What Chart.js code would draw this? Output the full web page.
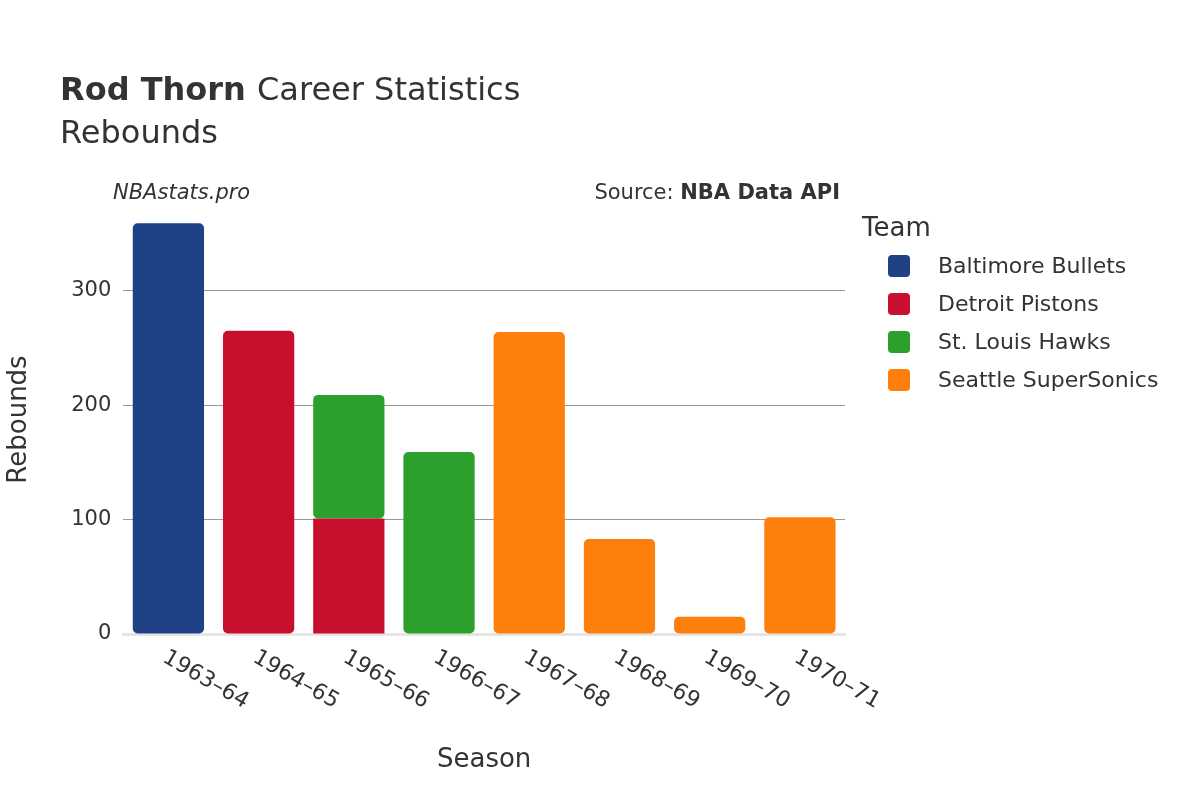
<!DOCTYPE html>
<html>
<head>
<meta charset="utf-8">
<script src="https://cdn.jsdelivr.net/npm/chart.js@4"></script>
<style>
  body { margin: 0; background: #fff; }
  #wrap { width: 1200px; height: 800px; position: relative; }
</style>
</head>
<body>
<div id="wrap"><canvas id="chart" width="1200" height="800"></canvas></div>
<script>
const seasons = ['1963–64','1964–65','1965–66','1966–67','1967–68','1968–69','1969–70','1970–71'];
const teams = ['Baltimore Bullets','Detroit Pistons','St. Louis Hawks','Seattle SuperSonics'];
const colors = ['#1f4287','#c8102e','#2ca02c','#ff7f0e'];
const bullets = [359, null, null, null, null, null, null, null];
const pistons = [null, 265, 101, null, null, null, null, null];
const hawks = [null, null, 108, 159, null, null, null, null];
const sonics = [null, null, null, null, 264, 83, 15, 102];
const yTicks = [0, 100, 200, 300];

const font = "'DejaVu Sans', sans-serif";

// titles, legend and rotated season labels drawn on the canvas
const titlePlugin = {
  id: 'titles',
  afterDraw(chart) {
    const c = chart.ctx;
    c.save();
    c.fillStyle = '#333';
    c.textBaseline = 'alphabetic';
    c.font = 'bold 32px ' + font;
    c.fillText('Rod Thorn', 60, 100);
    const w = c.measureText('Rod Thorn ').width;
    c.font = '32px ' + font;
    c.fillText('Career Statistics', 60 + w, 100);
    c.fillText('Rebounds', 60, 143);
    c.font = 'italic 21px ' + font;
    c.fillText('NBAstats.pro', 113, 199);
    c.textAlign = 'right';
    c.font = 'bold 21px ' + font;
    c.fillText('NBA Data API', 840, 199);
    const bw = c.measureText('NBA Data API').width;
    c.font = '21px ' + font;
    c.fillText('Source: ', 840 - bw, 199);
    // legend
    c.textAlign = 'left';
    c.font = '26px ' + font;
    c.fillText('Team', 862, 236);
    c.font = '22px ' + font;
    teams.forEach((t, i) => {
      const y = 266 + i * 38;
      c.fillStyle = colors[i];
      c.beginPath();
      c.roundRect(888, y - 11, 22, 22, 4);
      c.fill();
      c.fillStyle = '#333';
      c.textBaseline = 'middle';
      c.fillText(t, 938, y + 1);
    });
    // x labels rotated downward
    const xs = chart.scales.x;
    const bottom = chart.chartArea.bottom;
    c.font = '22px ' + font;
    c.textBaseline = 'middle';
    seasons.forEach((s, i) => {
      const x = xs.getPixelForValue(i);
      c.save();
      c.translate(x - 4, bottom + 22);
      c.rotate(Math.PI / 6);
      c.fillText(s, 0, 0);
      c.restore();
    });
    c.textAlign = 'center';
    c.font = '26px ' + font;
    c.fillText('Season', (chart.chartArea.left + chart.chartArea.right) / 2, 760);
    c.restore();
  }
};

const mk = (label, data, i) => ({
  label, data, backgroundColor: colors[i],
  borderRadius: 5, borderSkipped: false, barPercentage: 0.79, categoryPercentage: 1,
  borderColor: '#fff', borderWidth: 0
});

new Chart(document.getElementById('chart'), {
  type: 'bar',
  data: {
    labels: seasons,
    datasets: [mk(teams[0], bullets, 0), mk(teams[1], pistons, 1), mk(teams[2], hawks, 2), mk(teams[3], sonics, 3)]
  },
  plugins: [titlePlugin],
  options: {
    responsive: false,
    animation: false,
    layout: { padding: { left: 0, top: 205, right: 355, bottom: 158 } },
    plugins: { legend: { display: false }, tooltip: { enabled: false } },
    scales: {
      x: {
        stacked: true,
        grid: { display: false },
        border: { color: '#e5e5e5', width: 3 },
        ticks: { display: false }
      },
      y: {
        stacked: true,
        min: 0, max: 375,
        afterBuildTicks(ax) { ax.ticks = yTicks.map(v => ({ value: v })); },
        grid: { color: '#999', drawTicks: false },
        border: { display: false },
        ticks: { color: '#333', font: { family: font, size: 21 }, padding: 12 },
        title: { display: true, text: 'Rebounds', color: '#333', font: { family: font, size: 26 }, padding: { bottom: 24 } }
      }
    }
  }
});
</script>
</body>
</html>
